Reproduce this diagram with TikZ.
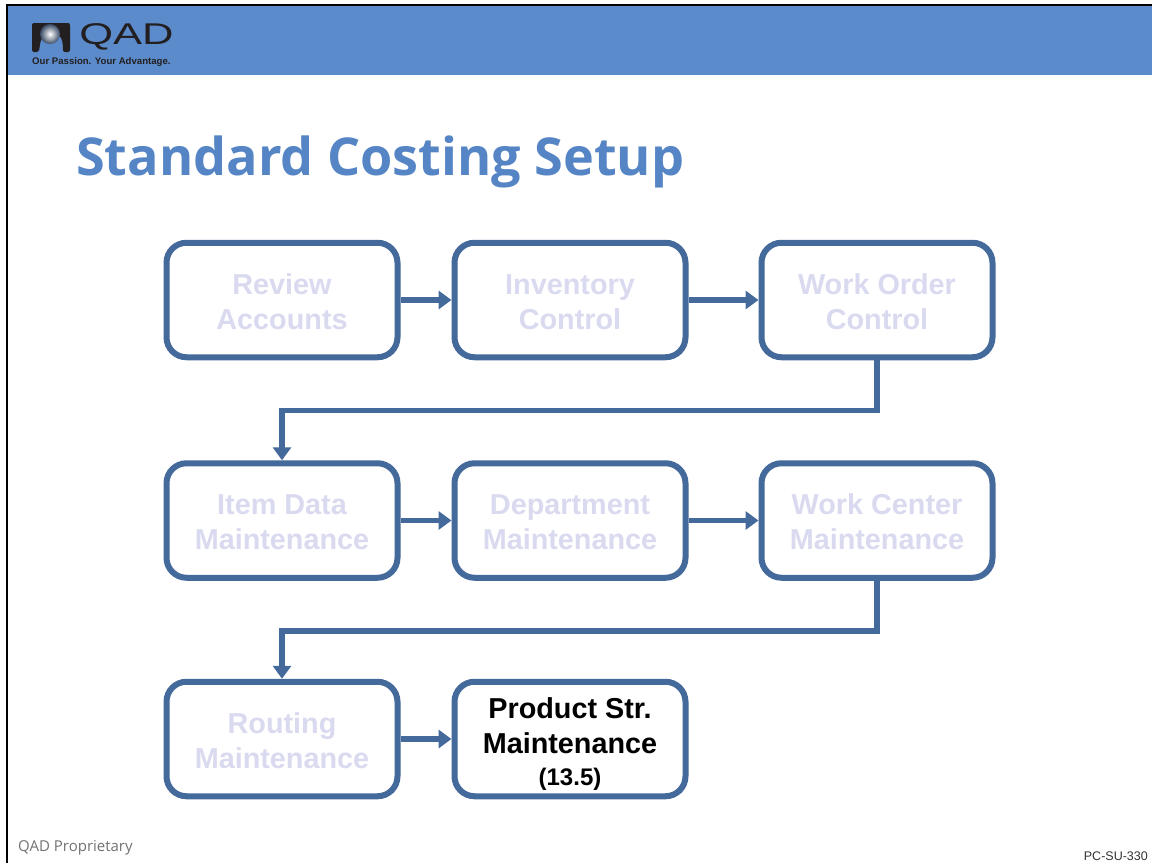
\documentclass[tikz,border=0pt]{standalone}
\usepackage{fontspec}
\setmainfont{Liberation Sans}
\newfontfamily\titlefont{Open Sans}
\newfontfamily\footfont{Open Sans}
\usepackage{tikz}
\usetikzlibrary{positioning,arrows.meta,shadows}
\definecolor{headerblue}{HTML}{5B8BCB}
\definecolor{titleblue}{HTML}{5585C5}
\definecolor{boxblue}{HTML}{44699B}
\definecolor{fadedtext}{HTML}{D9DAEF}
\definecolor{logoblack}{HTML}{231F20}

\begin{document}
\begin{tikzpicture}[
  x=1pt, y=-1pt,
  stepbox/.style={
    draw=boxblue, fill=white, line width=6pt, rounded corners=20pt,
    minimum width=231pt, minimum height=114.5pt, inner sep=0pt, align=center,
    font=\fontsize{28.8}{35}\selectfont\bfseries, text=fadedtext, text height=59pt,
    drop shadow={shadow xshift=1.2pt, shadow yshift=-1.2pt, fill=boxblue!55, opacity=1}
  },
  current/.style={text=black, text height=98pt},
  flow/.style={draw=boxblue, line width=5.5pt, -{Triangle[length=13pt,width=18pt]}},
  every node/.append style={inner sep=0pt}
]
\useasboundingbox (0,0) rectangle (1152,863);
\fill[white] (0,0) rectangle (1152,863);

% header band and frame
\fill[headerblue] (7,5) rectangle (1152,75);
\draw[black, line width=2.5pt] (1152,5) -- (7,5) -- (7,863);

% logo
\fill[logoblack, rounded corners=2pt] (32,23) -- (70,23) -- (70,52) -- (63,52)
  .. controls (63,43) and (62,38) .. (58,35) -- (45,35)
  .. controls (41,38) and (40,43) .. (39,52) -- (32,52) -- cycle;
\shade[inner color=white, outer color=logoblack!60!headerblue] (50,34) circle (10);
\node[logoblack, anchor=west, font=\fontsize{30}{30}\selectfont, xscale=1.45] (qad) at (79,37) {QAD};
\node[logoblack, anchor=west, font=\fontsize{9.6}{11}\selectfont\bfseries] (slogan) at (32,62) {Our Passion. Your Advantage.};

% title
\node[titleblue, anchor=west, font=\titlefont\fontsize{52.2}{60}\selectfont\bfseries] (title) at (76,162) {Standard Costing Setup};

% boxes
\node[stepbox] (review) at (282,300) {Review\\Accounts};
\node[stepbox, right=51pt of review] (inventory) {Inventory\\Control};
\node[stepbox, right=70pt of inventory] (workorder) {Work Order\\Control};
\node[stepbox, below=100pt of review] (itemdata) {Item Data\\Maintenance};
\node[stepbox, right=51pt of itemdata] (department) {Department\\Maintenance};
\node[stepbox, right=70pt of department] (workcenter) {Work Center\\Maintenance};
\node[stepbox, below=98pt of itemdata] (routing) {Routing\\Maintenance};
\node[stepbox, current, right=51pt of routing] (product) {Product Str.\\Maintenance\\[-3pt]{\fontsize{24}{28}\selectfont (13.5)}};

% connectors
\draw[flow] (review) -- (inventory);
\draw[flow] (inventory) -- (workorder);
\draw[flow] (itemdata) -- (department);
\draw[flow] (department) -- (workcenter);
\draw[flow] (routing) -- (product);
\draw[flow] (workorder.south) -- ++(0,50) -| (itemdata.north);
\draw[flow] (workcenter.south) -- ++(0,50) -| (routing.north);

% footer
\node[black!55, anchor=west, font=\footfont\fontsize{15}{18}\selectfont] (proprietary) at (18,848) {QAD Proprietary};
\node[black!80, anchor=east, font=\fontsize{12.5}{15}\selectfont] (pagecode) at (1148,856) {PC-SU-330};
\end{tikzpicture}
\end{document}
